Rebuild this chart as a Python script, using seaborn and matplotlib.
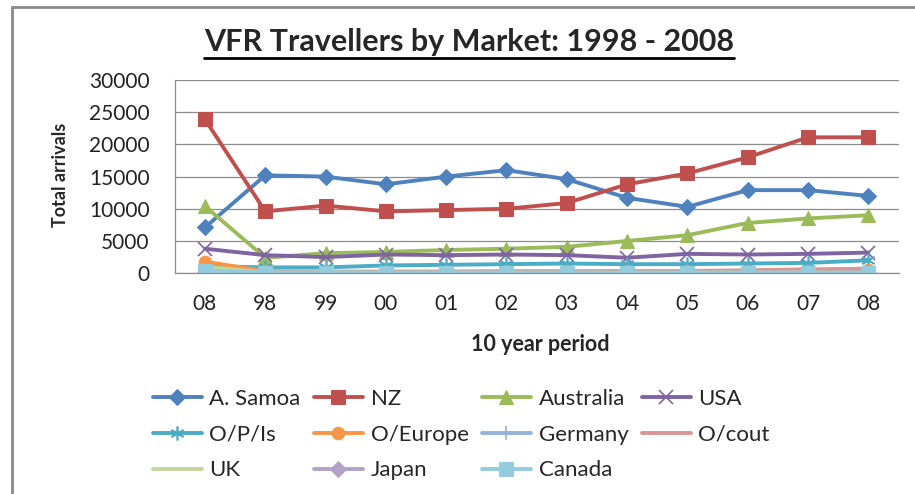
import matplotlib
matplotlib.use("Agg")
from matplotlib import pyplot as plt
from matplotlib.lines import Line2D
from matplotlib.patches import Rectangle
import seaborn as sns
import pandas as pd

# data
periods = ["08", "98", "99", "00", "01", "02", "03", "04", "05", "06", "07", "08"]
a_samoa = [7100, 15200, 15000, 13800, 15000, 16000, 14600, 11700, 10300, 12900, 12900, 12000]
nz = [23900, 9600, 10500, 9600, 9800, 10000, 10900, 13800, 15500, 18000, 21100, 21100]
australia = [10400, 2400, 3100, 3300, 3600, 3800, 4100, 5000, 5900, 7800, 8500, 9000]
usa = [3800, 2800, 2500, 2900, 2800, 2900, 2800, 2400, 3000, 2900, 3000, 3200]
op_is = [1100, 900, 900, 1200, 1300, 1400, 1500, 1400, 1400, 1500, 1600, 2000]
o_europe = [1800, 300, 250, 250, 250, 300, 300, 300, 300, 350, 400, 500]
germany = [400, 200, 200, 200, 200, 200, 200, 200, 200, 200, 200, 200]
o_cout = [300, 150, 150, 200, 200, 250, 250, 300, 350, 450, 600, 700]
uk = [1000, 100, 100, 100, 100, 100, 100, 100, 100, 100, 100, 100]
japan = [150, 80, 80, 80, 80, 80, 80, 80, 80, 80, 80, 80]
canada = [400, 80, 80, 80, 80, 80, 80, 80, 80, 80, 80, 80]

series = [
    ("A. Samoa", a_samoa, "#4F81BD", "D", 8),
    ("NZ", nz, "#C0504D", "s", 10),
    ("Australia", australia, "#9BBB59", "^", 10),
    ("USA", usa, "#8064A2", "x", 10),
    ("O/P/Is", op_is, "#4BACC6", (6, 2, 0), 10),
    ("O/Europe", o_europe, "#F79646", "o", 9),
    ("Germany", germany, "#95B3D7", "+", 10),
    ("O/cout", o_cout, "#D99694", None, 0),
    ("UK", uk, "#C3D69B", None, 0),
    ("Japan", japan, "#B3A2C7", "D", 8),
    ("Canada", canada, "#93CDDD", "s", 10),
]

sns.set_theme(style="white")
plt.rcParams["font.family"] = ["Lato", "DejaVu Sans"]

fig = plt.figure(figsize=(9.15, 4.94), dpi=100)
ax = fig.add_axes([0.191, 0.447, 0.791, 0.391])

xpos = list(range(len(periods)))
for name, vals, col, mk, ms in series:
    df = pd.DataFrame({"x": xpos, "y": vals})
    kw = dict(marker=mk, markersize=ms, markeredgecolor=col, markerfacecolor=col)
    if mk in ("x", "+") or isinstance(mk, tuple):
        kw["markeredgewidth"] = 1.2
    sns.lineplot(data=df, x="x", y="y", color=col, linewidth=2.8, label=name,
                 ax=ax, legend=False, **kw)

ax.set_xlim(-0.5, len(periods) - 0.5)
ax.set_ylim(0, 30000)
ax.set_yticks(range(0, 30001, 5000))
ax.set_xticks(xpos)
ax.set_xticklabels(periods)
ax.tick_params(axis="both", labelsize=15, colors="#222222", length=0, pad=15)
ax.tick_params(axis="y", pad=18)
ax.yaxis.grid(True, color="#8c8c8c", linewidth=0.9)
ax.set_axisbelow(True)
for s in ["top", "right"]:
    ax.spines[s].set_visible(False)
for s in ["left", "bottom"]:
    ax.spines[s].set_color("#8c8c8c")
    ax.spines[s].set_linewidth(0.9)
ax.set_xlabel("")
ax.set_ylabel("")

fig.text(0.066, 0.646, "Total arrivals", rotation=90, ha="center", va="center",
         fontsize=13, fontweight="bold")
fig.text(0.59, 0.302, "10 year period", ha="center", va="center",
         fontsize=15.5, fontweight="bold")
title = fig.text(0.513, 0.915, "VFR Travellers by Market: 1998 - 2008", ha="center",
                 va="center", fontsize=22, fontweight="bold")

# legend in Excel's row-major order
handles, labels = ax.get_legend_handles_labels()
order = [0, 4, 8, 1, 5, 9, 2, 6, 10, 3, 7]
fig.legend([handles[i] for i in order], [labels[i] for i in order],
           loc="upper left", bbox_to_anchor=(0.167, 0.212), ncol=4, frameon=False,
           fontsize=16, handlelength=2.2, handletextpad=0.35, columnspacing=0.6,
           labelspacing=0.7, borderaxespad=0, borderpad=0)

# underline the title and draw the outer frame
fig.canvas.draw()
bb = title.get_window_extent().transformed(fig.transFigure.inverted())
fig.add_artist(Line2D([bb.x0, bb.x1], [bb.y0 - 0.004, bb.y0 - 0.004],
                      transform=fig.transFigure, color="black", linewidth=2))
fig.add_artist(Rectangle((12 / 915, -0.1), 1.2, 1.1 - 7 / 494, transform=fig.transFigure,
                         fill=False, edgecolor="#8a8a8a", linewidth=2))

fig.savefig("out.png", dpi=100)
